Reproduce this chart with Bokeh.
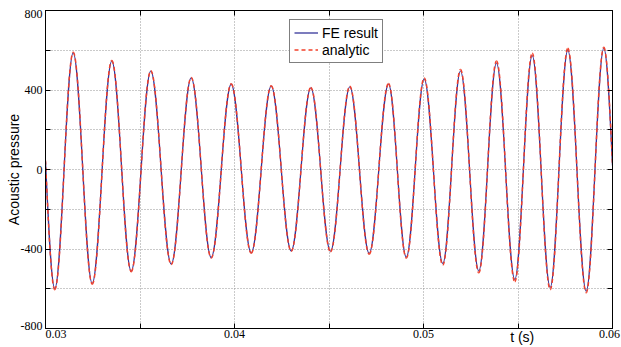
import numpy as np
from math import pi
from bokeh.plotting import figure
from bokeh.models import (FixedTicker, LinearAxis, Range1d, Legend, LegendItem,
                          CustomJSTickFormatter)
from bokeh.embed import file_html
from bokeh.resources import INLINE

# ---- data: start, each extreme (trough/peak), end ----
fe_t = [0.030000, 0.030492, 0.031466, 0.032471, 0.033508, 0.034534, 0.035571,
        0.036651, 0.037709, 0.038767, 0.039825, 0.040884, 0.041942, 0.043000,
        0.044037, 0.045079, 0.046101, 0.047127, 0.048148, 0.049090, 0.050037,
        0.051021, 0.051958, 0.052926, 0.053862, 0.054831, 0.055751, 0.056704,
        0.057635, 0.058608, 0.059540, 0.060000]
fe_p = [40, -599, 587, -573, 545, -511, 495, -476, 461, -443, 429, -419, 419,
        -409, 411, -411, 416, -422, 429, -441, 455, -473, 495, -510, 535, -553,
        573, -593, 600, -612, 609, 20]

an_t = [0.030000, 0.030492, 0.031466, 0.032471, 0.033508, 0.034534, 0.035571,
        0.036651, 0.037709, 0.038767, 0.039825, 0.040884, 0.041942, 0.043000,
        0.044037, 0.045079, 0.046101, 0.047127, 0.048148, 0.049090, 0.050037,
        0.051021, 0.051958, 0.052926, 0.053862, 0.054831, 0.055751, 0.056704,
        0.057635, 0.058608, 0.059540, 0.060000]
an_p = [45, -605, 590, -577, 548, -514, 497, -478, 463, -445, 431, -421, 421,
        -411, 413, -414, 419, -426, 433, -446, 461, -481, 503, -520, 546, -564,
        585, -604, 610, -620, 615, 25]

x_ticks = [0.03, 0.04, 0.05, 0.06]
x_tick_labels = ["0.03", "0.04", "0.05", "0.06"]
x_minor = [0.035, 0.045, 0.055]
y_ticks = [-800, -400, 0, 400, 800]
y_tick_labels = ["-800", "-400", "0", "400", "800"]
y_minor = [-600, -200, 200, 600]
x_title = "t (s)"
x_title_at = 0.055222
y_title = "Acoustic pressure"

BLUE = "#35359a"
RED = "#f2402a"
SERIF = "'Liberation Serif', 'Times New Roman', serif"
SANS = "Liberation Sans"

W, H = 621, 347
ML, MR, MT, MB = 45, 9, 10, 18
FW, FH = W - ML - MR, H - MT - MB


def bezier_segments(t, v):
    """Smooth wave segments between consecutive extremes (cubic Bezier)."""
    t = np.asarray(t, dtype=float)
    v = np.asarray(v, dtype=float)
    x0, x1 = t[:-1], t[1:]
    y0, y1 = v[:-1], v[1:]
    dt = x1 - x0
    k = (pi - 2) / pi
    cx0 = x0 + k * dt
    cy0 = y0.copy()
    cx1 = x1 - k * dt
    cy1 = y1.copy()
    # first and last pieces are quarter waves (crossing -> extreme)
    cx0[0] = x0[0] + dt[0] / 3
    cy0[0] = y0[0] + 0.52 * (y1[0] - y0[0])
    cx1[0] = x1[0] - 0.36 * dt[0]
    cx0[-1] = x0[-1] + 0.36 * dt[-1]
    cx1[-1] = x1[-1] - dt[-1] / 3
    cy1[-1] = y1[-1] - 0.52 * (y1[-1] - y0[-1])
    return dict(x0=x0, y0=y0, x1=x1, y1=y1, cx0=cx0, cy0=cy0, cx1=cx1, cy1=cy1)


XMIN, XMAX = x_ticks[0], x_ticks[-1]
YMIN, YMAX = y_ticks[0], y_ticks[-1]
DX = (XMAX - XMIN) / FW   # data units per pixel
DY = (YMAX - YMIN) / FH

p = figure(width=W, height=H, x_range=Range1d(XMIN, XMAX),
           y_range=Range1d(YMIN, YMAX), output_backend="svg",
           toolbar_location=None, min_border_left=ML, min_border_right=MR,
           min_border_top=MT, min_border_bottom=MB)
p.background_fill_color = "white"
p.border_fill_color = "white"
p.outline_line_color = "black"

xt = FixedTicker(ticks=x_ticks, minor_ticks=x_minor)
yt = FixedTicker(ticks=y_ticks, minor_ticks=y_minor)
bottom_ax = p.below[0]
left_ax = p.left[0]
bottom_ax.ticker = xt
left_ax.ticker = yt
p.xgrid.ticker = xt
p.ygrid.ticker = yt
for g in (p.xgrid, p.ygrid):
    g.grid_line_color = "#949494"
    g.grid_line_dash = "1 2"
    g.grid_line_width = 1
    g.minor_grid_line_color = "#949494"
    g.minor_grid_line_dash = "1 2"
    g.minor_grid_line_width = 1

top_ax = LinearAxis(ticker=xt)
right_ax = LinearAxis(ticker=yt)
p.add_layout(top_ax, "above")
p.add_layout(right_ax, "right")
# tick-mark axes (box style, inward ticks, no labels)
for ax in [bottom_ax, left_ax, top_ax, right_ax]:
    ax.major_label_text_font_size = "1px"
    ax.major_label_text_color = None
    ax.major_label_standoff = 0
    ax.major_tick_in = 5
    ax.major_tick_out = 0
    ax.minor_tick_in = 5
    ax.minor_tick_out = 0
    ax.axis_line_color = "black"
    ax.major_tick_line_color = "black"
    ax.minor_tick_line_color = "black"

# label axes (MATLAB-like placement of the tick texts)
x_lab_shift_px = [10.5, 0, 0, -3]
x_lab_pos = [xv + s * DX for xv, s in zip(x_ticks, x_lab_shift_px)]
xlab_ax = LinearAxis(
    ticker=FixedTicker(ticks=x_lab_pos, minor_ticks=[]),
    formatter=CustomJSTickFormatter(args=dict(labels=x_tick_labels),
                                    code="return labels[index]"))
y_lab_shift_px = [3, 0, 0, 0, -3.7]
y_lab_pos = [yv + s * DY for yv, s in zip(y_ticks, y_lab_shift_px)]
ylab_ax = LinearAxis(
    ticker=FixedTicker(ticks=y_lab_pos, minor_ticks=[]),
    formatter=CustomJSTickFormatter(args=dict(labels=y_tick_labels),
                                    code="return labels[index]"),
    axis_label=y_title)
# x title sits on the tick-label row, towards the right (as in the original)
xtitle_ax = LinearAxis(
    ticker=FixedTicker(ticks=[x_title_at], minor_ticks=[]),
    formatter=CustomJSTickFormatter(args=dict(labels=[x_title]),
                                    code="return labels[index]"))
for ax in (xlab_ax, ylab_ax, xtitle_ax):
    ax.axis_line_color = None
    ax.major_tick_line_color = None
    ax.minor_tick_line_color = None
    ax.major_tick_in = 0
    ax.major_tick_out = 0
    ax.minor_tick_in = 0
    ax.minor_tick_out = 0
    ax.major_label_text_font = SERIF
    ax.major_label_text_font_size = "12px"
    ax.major_label_text_color = "black"
xlab_ax.major_label_standoff = 1
ylab_ax.major_label_standoff = 3
xtitle_ax.major_label_text_font = SANS
xtitle_ax.major_label_text_font_size = "14px"
xtitle_ax.major_label_standoff = -12
ylab_ax.axis_label_text_font = SANS
ylab_ax.axis_label_text_font_size = "14px"
ylab_ax.axis_label_text_font_style = "normal"
ylab_ax.axis_label_text_color = "black"
ylab_ax.axis_label_standoff = -4
p.add_layout(xlab_ax, "below")
p.add_layout(xtitle_ax, "below")
p.add_layout(ylab_ax, "left")

# curves
fe_r = p.bezier(**bezier_segments(fe_t, fe_p), line_color=BLUE, line_width=1.3)
an_r = p.bezier(**bezier_segments(an_t, an_p), line_color=RED, line_width=1.5,
                line_dash="4 3")

# legend
legend = Legend(items=[LegendItem(label="FE result", renderers=[fe_r]),
                       LegendItem(label="analytic", renderers=[an_r])],
                location=(244, 265), orientation="vertical")
legend.label_text_font = SANS
legend.label_text_font_size = "14px"
legend.label_text_color = "black"
legend.glyph_width = 24
legend.glyph_height = 17
legend.label_height = 17
legend.label_standoff = 4
legend.padding = 4
legend.spacing = 0
legend.margin = 0
legend.border_line_color = "black"
legend.border_line_width = 1
legend.background_fill_color = "white"
legend.background_fill_alpha = 1
p.add_layout(legend)

open("out.html", "w").write(file_html(p, INLINE))
